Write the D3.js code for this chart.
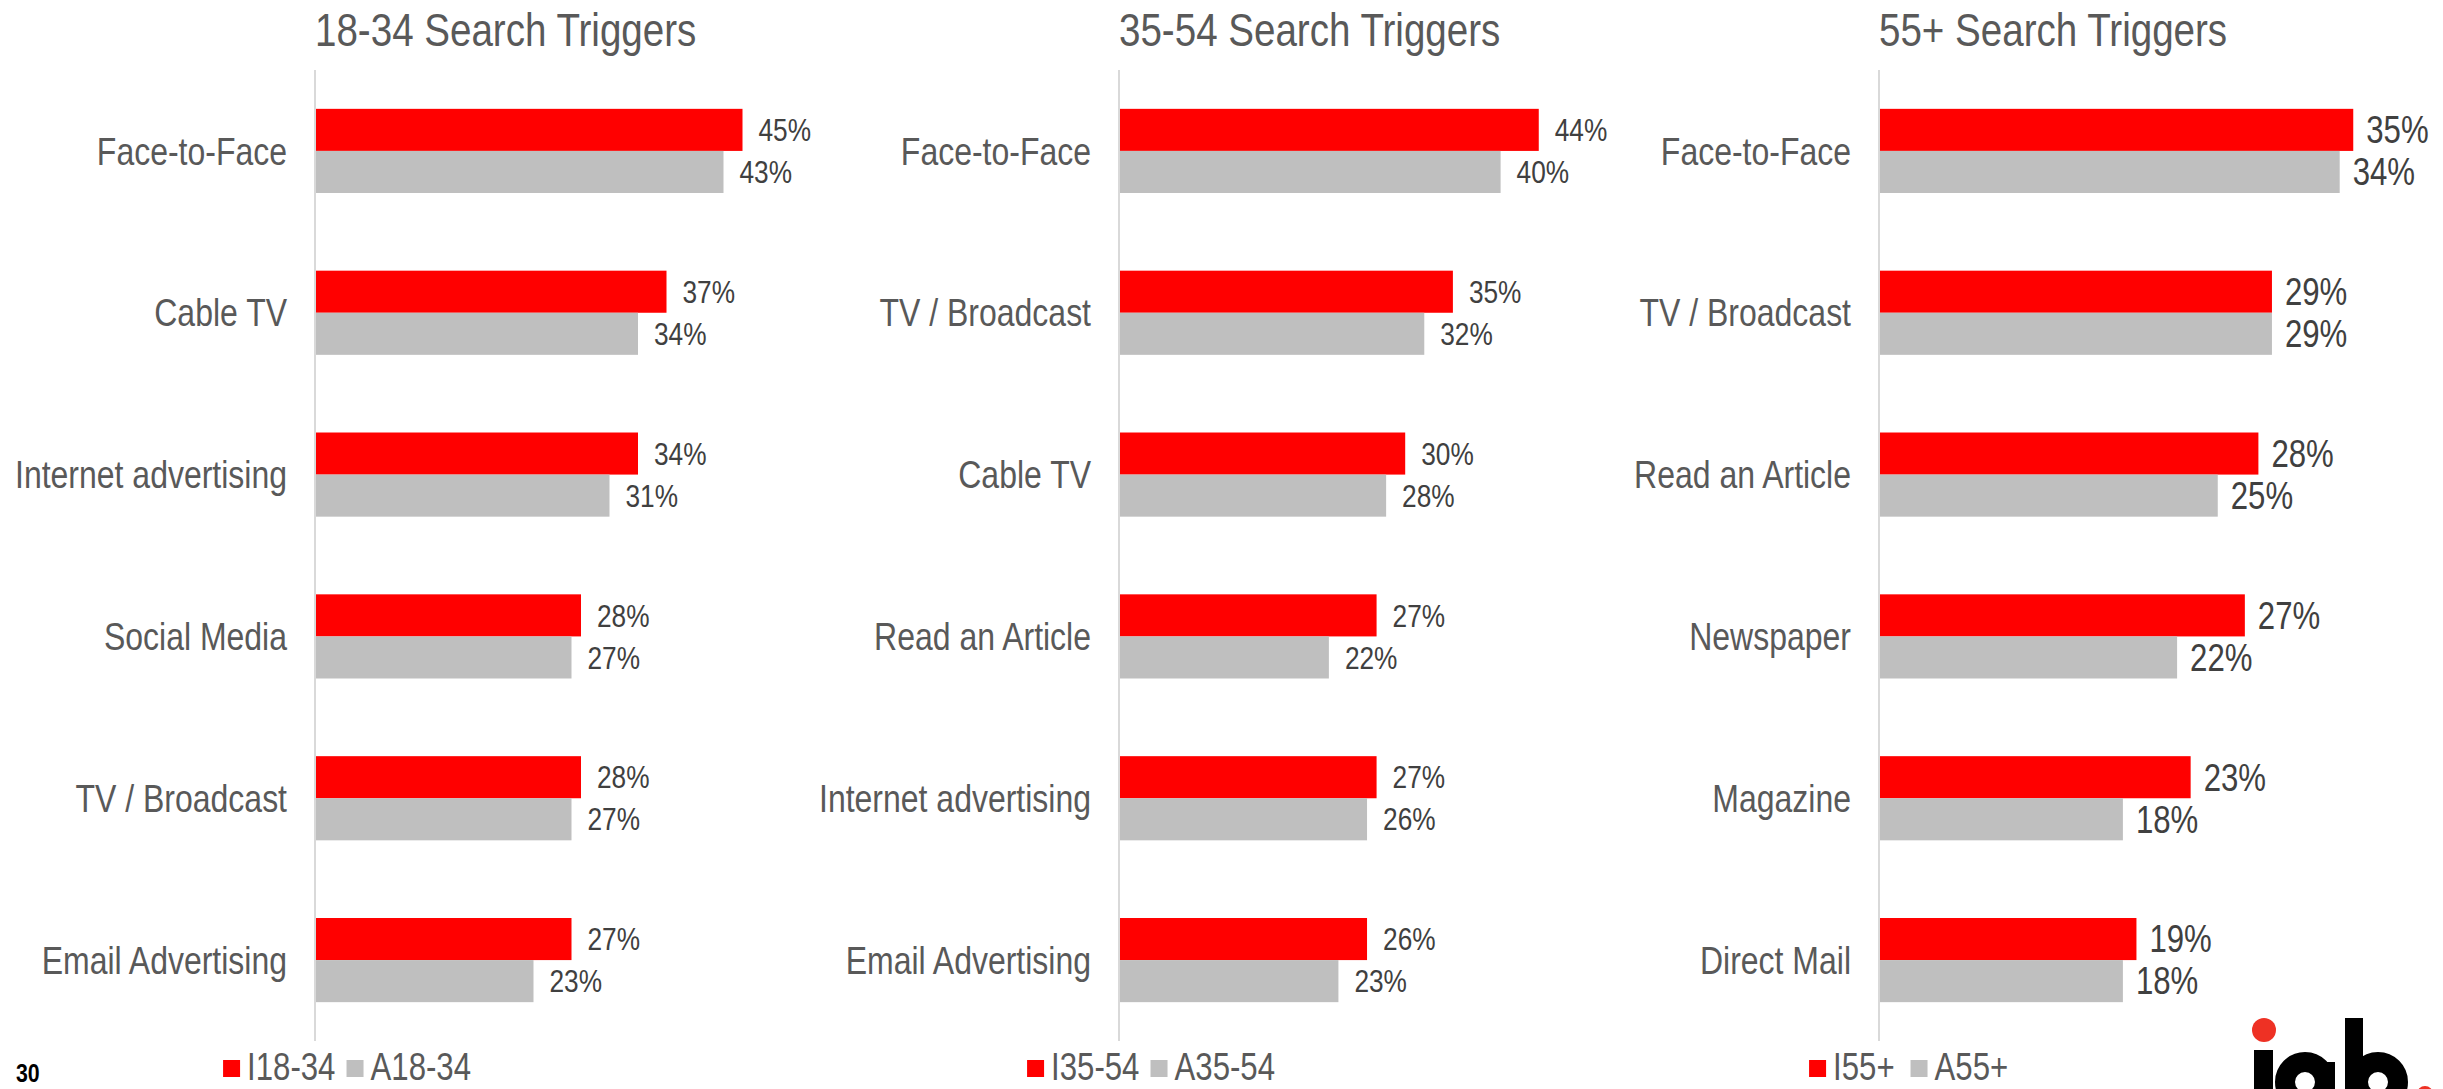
<!DOCTYPE html>
<html>
<head>
<meta charset="utf-8">
<script src="https://cdn.jsdelivr.net/npm/d3@7"></script>
<style>
  html, body { margin: 0; padding: 0; background: #ffffff; overflow: hidden; }
</style>
</head>
<body>
<svg id="chart" width="2443" height="1089"></svg>
<script>
// ---- Data -------------------------------------------------------------
const seriesKeys = ["I", "A"];

const titles = ["18-34 Search Triggers", "35-54 Search Triggers", "55+ Search Triggers"];

const categories1834 = ["Face-to-Face", "Cable TV", "Internet advertising", "Social Media", "TV / Broadcast", "Email Advertising"];
const valuesI1834 = [45, 37, 34, 28, 28, 27];
const valuesA1834 = [43, 34, 31, 27, 27, 23];
const legend1834 = ["I18-34", "A18-34"];

const categories3554 = ["Face-to-Face", "TV / Broadcast", "Cable TV", "Read an Article", "Internet advertising", "Email Advertising"];
const valuesI3554 = [44, 35, 30, 27, 27, 26];
const valuesA3554 = [40, 32, 28, 22, 26, 23];
const legend3554 = ["I35-54", "A35-54"];

const categories55 = ["Face-to-Face", "TV / Broadcast", "Read an Article", "Newspaper", "Magazine", "Direct Mail"];
const valuesI55 = [35, 29, 28, 27, 23, 19];
const valuesA55 = [34, 29, 25, 22, 18, 18];
const legend55 = ["I55+", "A55+"];

const pageNumber = "30";

// ---- Setup ------------------------------------------------------------
const svg = d3.select("#chart");
const colors = { I: "#ff0000", A: "#bfbfbf" };

// Prefer a narrow sans face; fall back to horizontally condensing the regular one.
function measureFamily(family) {
  const t = svg.append("text").attr("font-family", family).attr("font-size", 100).text("Internet advertising");
  const w = t.node().getComputedTextLength();
  t.remove();
  return w;
}
const narrowAvailable = measureFamily("'Liberation Sans Narrow', 'Liberation Sans'") < 0.9 * measureFamily("'Liberation Sans'");
const FONT = narrowAvailable ? "'Liberation Sans Narrow', 'Liberation Sans', Arial, sans-serif" : "'Liberation Sans', Arial, sans-serif";
const SQUEEZE = 0.82;

function condense(sel) {
  if (narrowAvailable) return;
  sel.each(function () {
    const w = this.getComputedTextLength();
    d3.select(this).attr("textLength", w * SQUEEZE).attr("lengthAdjust", "spacingAndGlyphs");
  });
}
function textWidth(node) {
  const w = node.getComputedTextLength();
  return narrowAvailable ? w : w * SQUEEZE;
}

// ---- Panels -----------------------------------------------------------
const panels = [
  { title: titles[0], cats: categories1834, I: valuesI1834, A: valuesA1834, legend: legend1834,
    axisX: 315, xMax: 50, xWidth: 475, valueFont: 32, valueGap: 16 },
  { title: titles[1], cats: categories3554, I: valuesI3554, A: valuesA3554, legend: legend3554,
    axisX: 1119, xMax: 50, xWidth: 477, valueFont: 32, valueGap: 16 },
  { title: titles[2], cats: categories55, I: valuesI55, A: valuesA55, legend: legend55,
    axisX: 1879, xMax: 40, xWidth: 542, valueFont: 38, valueGap: 13 }
];

const plotTop = 70, plotBottom = 1041;

panels.forEach(p => {
  const g = svg.append("g");

  const x = d3.scaleLinear().domain([0, p.xMax]).range([p.axisX, p.axisX + p.xWidth]);
  const y = d3.scaleBand().domain(p.cats).range([plotTop, plotBottom])
    .paddingInner(0.48).paddingOuter(0.24);
  const ySub = d3.scaleBand().domain(seriesKeys).range([0, y.bandwidth()]);

  // Title
  g.append("text")
    .attr("x", p.axisX).attr("y", 46)
    .attr("font-family", FONT).attr("font-size", 47).attr("fill", "#595959")
    .text(p.title)
    .call(condense);

  // Bars
  const rows = p.cats.map((c, i) => ({ cat: c, I: p.I[i], A: p.A[i] }));
  const groups = g.selectAll("g.row").data(rows).join("g")
    .attr("class", "row")
    .attr("transform", d => `translate(0,${y(d.cat)})`);

  groups.selectAll("rect")
    .data(d => seriesKeys.map(k => ({ key: k, value: d[k] })))
    .join("rect")
    .attr("x", x(0))
    .attr("y", d => ySub(d.key))
    .attr("width", d => x(d.value) - x(0))
    .attr("height", ySub.bandwidth())
    .attr("fill", d => colors[d.key]);

  groups.selectAll("text.val")
    .data(d => seriesKeys.map(k => ({ key: k, value: d[k] })))
    .join("text")
    .attr("class", "val")
    .attr("x", d => x(d.value) + p.valueGap)
    .attr("y", d => ySub(d.key) + ySub.bandwidth() / 2)
    .attr("dy", "0.35em")
    .attr("font-family", FONT).attr("font-size", p.valueFont).attr("fill", "#404040")
    .text(d => d.value + "%")
    .call(condense);

  // Category axis
  const axis = d3.axisLeft(y).tickSize(0).tickPadding(28);
  const ax = g.append("g").attr("transform", `translate(${p.axisX},0)`).call(axis);
  ax.select(".domain").remove();
  ax.append("line")
    .attr("x1", 0).attr("x2", 0).attr("y1", plotTop).attr("y2", plotBottom)
    .attr("stroke", "#d9d9d9").attr("stroke-width", 2);
  ax.selectAll(".tick text")
    .attr("font-family", FONT).attr("font-size", 39).attr("fill", "#595959")
    .attr("dy", "0.35em")
    .call(condense);

  // Legend
  const lg = g.append("g");
  const sq = 17, gapText = 7, gapItem = 27;
  let cursor = 0;
  seriesKeys.forEach((k, i) => {
    lg.append("rect").attr("x", cursor).attr("y", 1060).attr("width", sq).attr("height", sq)
      .attr("fill", colors[k]);
    const t = lg.append("text")
      .attr("x", cursor + sq + gapText).attr("y", 1080)
      .attr("font-family", FONT).attr("font-size", 38).attr("fill", "#595959")
      .text(p.legend[i]);
    t.call(condense);
    cursor += sq + gapText + textWidth(t.node()) + gapItem;
  });
  const total = cursor - gapItem;
  lg.attr("transform", `translate(${p.axisX + 23 - total / 2},0)`);
});

// ---- Page number ------------------------------------------------------
svg.append("text")
  .attr("x", 16).attr("y", 1082)
  .attr("font-family", FONT).attr("font-size", 26).attr("font-weight", "bold").attr("fill", "#000")
  .text(pageNumber)
  .call(condense);

// ---- Logo mark --------------------------------------------------------
const logo = svg.append("g");
logo.append("circle").attr("cx", 2264).attr("cy", 1030).attr("r", 12).attr("fill", "#ee3124");
logo.append("rect").attr("x", 2254).attr("y", 1050).attr("width", 19).attr("height", 60).attr("fill", "#000");
logo.append("circle").attr("cx", 2305).attr("cy", 1082).attr("r", 20)
  .attr("fill", "none").attr("stroke", "#000").attr("stroke-width", 20);
logo.append("rect").attr("x", 2317).attr("y", 1062).attr("width", 18).attr("height", 50).attr("fill", "#000");
logo.append("rect").attr("x", 2345).attr("y", 1018).attr("width", 18).attr("height", 90).attr("fill", "#000");
logo.append("circle").attr("cx", 2378).attr("cy", 1082).attr("r", 20)
  .attr("fill", "none").attr("stroke", "#000").attr("stroke-width", 20);
logo.append("circle").attr("cx", 2425).attr("cy", 1094).attr("r", 8).attr("fill", "#ee3124");
</script>
</body>
</html>
